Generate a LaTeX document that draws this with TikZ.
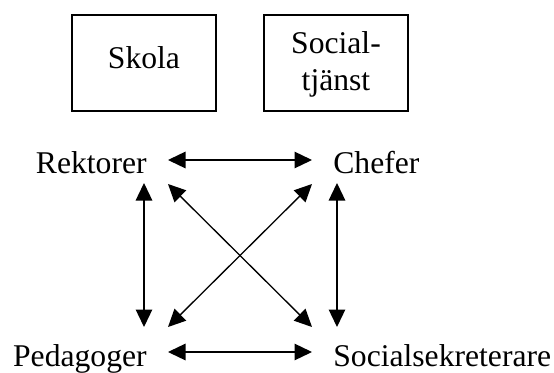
\documentclass[tikz,border=0pt]{standalone}
\usepackage{fontspec}
\setmainfont{Liberation Serif}
\usepackage{tikz}
\usetikzlibrary{arrows.meta}
\tikzset{
box/.style={ % the two organisations at the top
draw,
semithick,
minimum width=2.88cm,
minimum height=1.92cm,
inner sep=0pt,
align=center},
role/.style={ % the four professions, no padding round the text
inner sep=0pt},
every edge/.style={ % Sets the properties for each link
draw,
{Triangle[length=3.5mm,width=3.3mm]}-{Triangle[length=3.5mm,width=3.3mm]},
line width=0.75pt}}

\begin{document}
\begin{tikzpicture}[font=\fontsize{18}{21.5}\selectfont]
\useasboundingbox (0,0) rectangle (11.08,7.44);
\node[box, text depth=0.23cm] (skola) at (2.88,6.18) {Skola};
\node[box, text depth=0.08cm] (soctj) at (6.72,6.18) {Social-\\tjänst};
\node[role, anchor=base east] (rek) at (2.94,3.96) {Rektorer};
\node[role, anchor=base west] (chef) at (6.66,3.96) {Chefer};
\node[role, anchor=base east] (ped) at (2.94,0.12) {Pedagoger};
\node[role, anchor=base west] (soc) at (6.66,0.12) {Socialsekreterare};
\draw ([shift={(0.42,0.28)}]rek.base east) edge ([shift={(-0.42,0.28)}]chef.base west) ;
\draw ([shift={(0.42,0.28)}]ped.base east) edge ([shift={(-0.42,0.28)}]soc.base west) ;
\draw ([shift={(-0.06,-0.18)}]rek.base east) edge ([shift={(-0.06,0.78)}]ped.base east) ;
\draw ([shift={(0.08,-0.18)}]chef.base west) edge ([shift={(0.08,0.78)}]soc.base west) ;
\draw ([shift={(0.42,-0.2)}]rek.base east) edge ([shift={(-0.42,0.78)}]soc.base west) ;
\draw ([shift={(0.42,0.78)}]ped.base east) edge ([shift={(-0.42,-0.2)}]chef.base west) ;
\end{tikzpicture}
\end{document}
